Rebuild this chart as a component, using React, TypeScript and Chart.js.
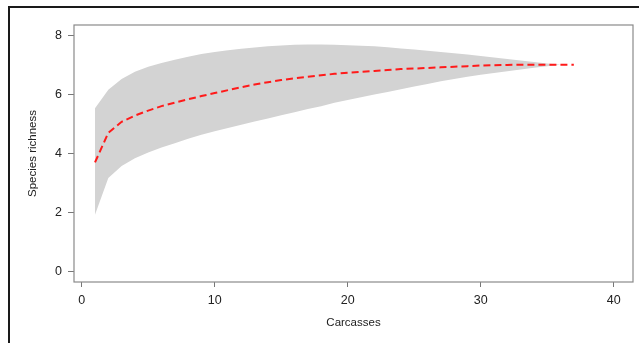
import React, { useEffect, useRef } from "react";
import { Chart, registerables } from "chart.js";

Chart.register(...registerables);

const carcasses = [1, 2, 3, 4, 5, 6, 7, 8, 9, 10, 11, 12, 13, 14, 15, 16, 17, 18, 19, 20, 21, 22, 23, 24, 25, 26, 27, 28, 29, 30, 31, 32, 33, 34, 35, 36, 37];
const meanRichness = [3.7, 4.7, 5.07, 5.28, 5.45, 5.6, 5.72, 5.83, 5.94, 6.04, 6.14, 6.24, 6.33, 6.41, 6.48, 6.54, 6.59, 6.64, 6.69, 6.73, 6.76, 6.79, 6.82, 6.85, 6.87, 6.89, 6.91, 6.93, 6.95, 6.97, 6.98, 6.99, 7.0, 7.0, 7.0, 7.0, 7.0];
const upperRichness = [5.53, 6.15, 6.52, 6.76, 6.93, 7.06, 7.17, 7.27, 7.36, 7.43, 7.49, 7.54, 7.58, 7.62, 7.65, 7.67, 7.68, 7.68, 7.67, 7.66, 7.64, 7.62, 7.59, 7.55, 7.51, 7.47, 7.43, 7.39, 7.34, 7.29, 7.24, 7.19, 7.14, 7.09, 7.04, 7.0, 7.0];
const lowerRichness = [1.93, 3.17, 3.58, 3.84, 4.03, 4.2, 4.35, 4.5, 4.63, 4.75, 4.86, 4.97, 5.08, 5.18, 5.29, 5.39, 5.5, 5.6, 5.71, 5.81, 5.9, 5.99, 6.08, 6.17, 6.26, 6.35, 6.44, 6.52, 6.59, 6.66, 6.72, 6.78, 6.84, 6.9, 6.95, 7.0, 7.0];
const xTicks = [0, 10, 20, 30, 40];
const yTicks = [0, 2, 4, 6, 8];

const toPoints = (ys: number[]) => carcasses.map((x, i) => ({ x, y: ys[i] }));

const framePlugin = {
  id: "frame",
  afterDraw(chart: any) {
    const { ctx, chartArea } = chart;
    ctx.save();
    ctx.strokeStyle = "#8a8a8a";
    ctx.lineWidth = 1.2;
    ctx.strokeRect(chartArea.left, chartArea.top, chartArea.right - chartArea.left, chartArea.bottom - chartArea.top);
    ctx.strokeStyle = "#1a1a1a";
    ctx.lineWidth = 2;
    ctx.beginPath();
    ctx.moveTo(9, 343);
    ctx.lineTo(9, 7);
    ctx.lineTo(639, 7);
    ctx.stroke();
    ctx.restore();
  },
};

export default function App() {
  const ref = useRef<HTMLCanvasElement | null>(null);
  useEffect(() => {
    document.body.style.margin = "0";
    const canvas = ref.current!;
    const chart = new Chart(canvas, {
      type: "line",
      data: {
        datasets: [
          {
            label: "mean",
            data: toPoints(meanRichness),
            borderColor: "#ff1a1a",
            borderWidth: 2,
            borderDash: [7, 4],
            pointRadius: 0,
            fill: false,
            tension: 0,
          },
          {
            label: "upper",
            data: toPoints(upperRichness),
            borderWidth: 0,
            borderColor: "rgba(0,0,0,0)",
            backgroundColor: "#d3d3d3",
            pointRadius: 0,
            fill: "+1",
            tension: 0,
          },
          {
            label: "lower",
            data: toPoints(lowerRichness),
            borderWidth: 0,
            borderColor: "rgba(0,0,0,0)",
            pointRadius: 0,
            fill: false,
            tension: 0,
          },
        ],
      },
      options: {
        animation: false,
        responsive: false,
        devicePixelRatio: 1,
        layout: { padding: { left: 0, top: 25, right: 6, bottom: 0 } },
        plugins: { legend: { display: false }, tooltip: { enabled: false } },
        scales: {
          x: {
            type: "linear",
            min: -0.58,
            max: 41.45,
            afterBuildTicks: (s: any) => {
              s.ticks = xTicks.map((v) => ({ value: v }));
            },
            afterFit: (s: any) => {
              s.height = 61;
            },
            grid: { display: true, drawOnChartArea: false, drawTicks: true, tickLength: 5, color: "#777", lineWidth: 1 },
            border: { display: false },
            ticks: { color: "#222", font: { family: "Liberation Sans, Arial", size: 12.5 }, padding: 6, maxRotation: 0 },
            title: { display: true, text: "Carcasses", color: "#222", font: { family: "Liberation Sans, Arial", size: 11.5 }, padding: { top: 13, bottom: 13 } },
          },
          y: {
            type: "linear",
            min: -0.34,
            max: 8.34,
            afterBuildTicks: (s: any) => {
              s.ticks = yTicks.map((v) => ({ value: v }));
            },
            afterFit: (s: any) => {
              s.width = 74;
            },
            grid: { display: true, drawOnChartArea: false, drawTicks: true, tickLength: 6, color: "#777", lineWidth: 1 },
            border: { display: false },
            ticks: { color: "#222", font: { family: "Liberation Sans, Arial", size: 12.5 }, padding: 6 },
            title: { display: true, text: "Species richness", color: "#222", font: { family: "Liberation Sans, Arial", size: 11.5 }, padding: { top: 26, bottom: 0 } },
          },
        },
      },
      plugins: [framePlugin],
    });
    return () => chart.destroy();
  }, []);
  return (
    <div style={{ width: 639, height: 343, background: "#fff" }}>
      <canvas ref={ref} width={639} height={343} style={{ display: "block" }} />
    </div>
  );
}
